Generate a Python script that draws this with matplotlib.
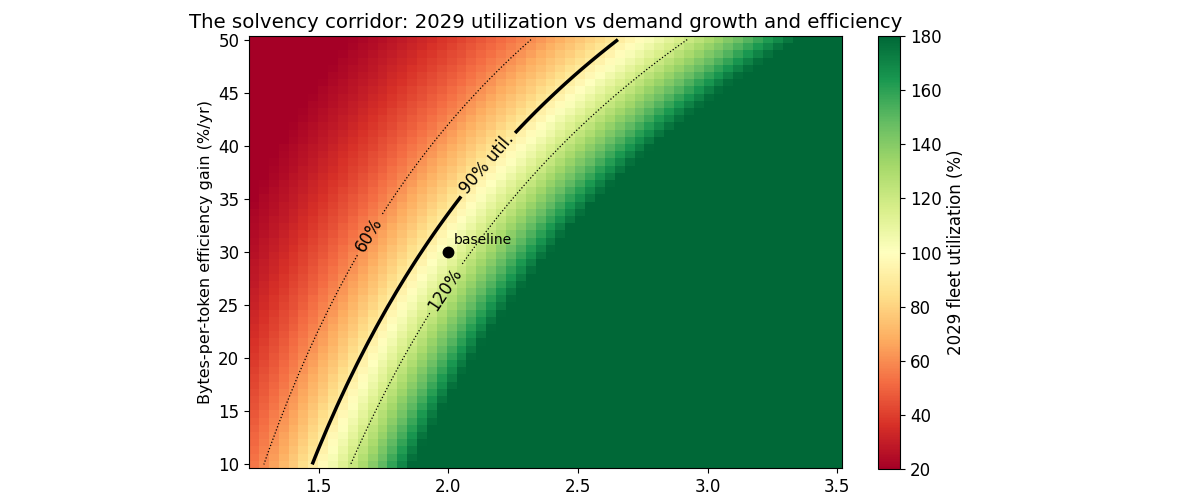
import numpy as np
import matplotlib
matplotlib.use("Agg")
import matplotlib.pyplot as plt

# Axis grids (demand growth multiplier per year, efficiency gain %/yr)
growth_values = np.linspace(1.25, 3.5, 60)
efficiency_pct = np.linspace(10, 50, 60)

# Utilization model: util = base * (growth * (1 - eff))^years
base_util = 38.5
years = 3

contour_levels = [60, 90, 120]
contour_labels = {60: "60%", 90: "90% util.", 120: "120%"}
baseline_growth = 2.0
baseline_eff = 30
cbar_ticks = [20, 40, 60, 80, 100, 120, 140, 160, 180]

G, E = np.meshgrid(growth_values, efficiency_pct)
U = base_util * (G * (1 - E / 100.0)) ** years

fig = plt.figure(figsize=(11.82, 4.98), dpi=100)
ax = fig.add_axes([0.2107, 0.0602, 0.5017, 0.8675])
cax = fig.add_axes([0.7425, 0.0582, 0.0190, 0.8695])

mesh = ax.pcolormesh(growth_values, efficiency_pct, U, cmap="RdYlGn",
                     vmin=20, vmax=180, shading="auto")

cs_thin = ax.contour(G, E, U, levels=[60, 120], colors="black",
                     linewidths=0.9, linestyles=":")
cs_main = ax.contour(G, E, U, levels=[90], colors="black",
                     linewidths=2.5, linestyles="-")
ax.clabel(cs_thin, fmt=contour_labels, fontsize=12, inline=True,
          manual=[(1.68, 31.8), (1.97, 26.8)])
ax.clabel(cs_main, fmt=contour_labels, fontsize=12, inline=True,
          manual=[(2.13, 38.7)])

ax.plot([baseline_growth], [baseline_eff], "o", color="black", markersize=7.5)
ax.annotate("baseline", (baseline_growth, baseline_eff), xytext=(4, 6),
            textcoords="offset points", fontsize=10)

ax.set_xticks([1.5, 2.0, 2.5, 3.0, 3.5])
ax.set_yticks([10, 15, 20, 25, 30, 35, 40, 45, 50])
ax.tick_params(labelsize=12)
ax.set_ylabel("Bytes-per-token efficiency gain (%/yr)", fontsize=11.5)
ax.set_title("The solvency corridor: 2029 utilization vs demand growth and efficiency",
             fontsize=14.2)

cb = fig.colorbar(mesh, cax=cax, ticks=cbar_ticks)
cb.ax.tick_params(labelsize=12)
cb.set_label("2029 fleet utilization (%)", fontsize=12)

fig.savefig("out.png", dpi=100)
